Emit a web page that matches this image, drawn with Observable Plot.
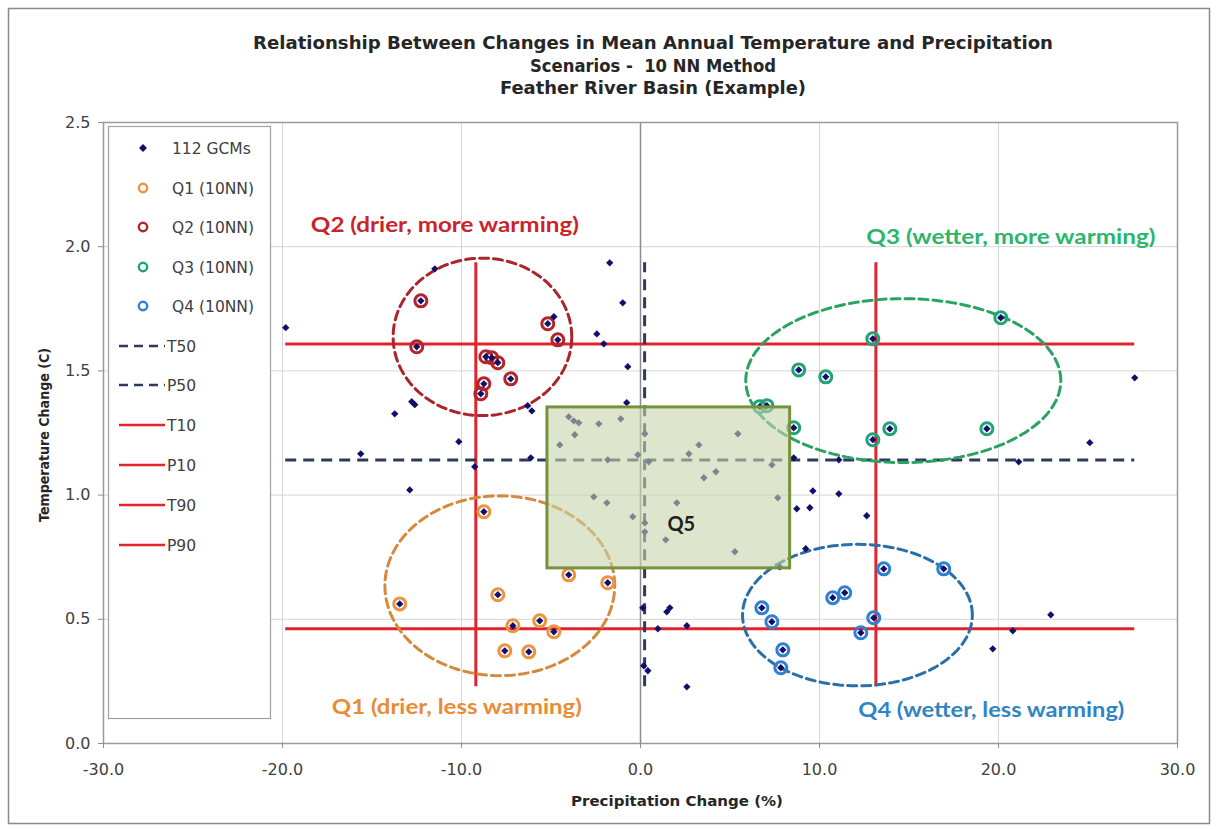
<!DOCTYPE html>
<html><head><meta charset="utf-8">
<script src="https://cdn.jsdelivr.net/npm/d3@7"></script>
<script src="https://cdn.jsdelivr.net/npm/@observablehq/plot@0.6"></script>
<style>
body{margin:0;background:#fff;}
#chart{position:relative;width:1218px;height:829px;}
</style></head><body><div id="chart"></div>
<script>
// ---------- data ----------
const titleLines = ["Relationship Between Changes in Mean Annual Temperature and Precipitation", "Scenarios -  10 NN Method", "Feather River Basin (Example)"];
const xLabel = "Precipitation Change (%)";
const yLabel = "Temperature Change (C)";
const xTicks = [-30, -20, -10, 0, 10, 20, 30];
const yTicks = [0, 0.5, 1.0, 1.5, 2.0, 2.5];

// GCMs not in a 10NN cluster
const gcmPrecip = [-19.82,-11.49,-4.84,-1.72,-0.99,-2.44,-2.05,-0.71,-0.77,-12.78,-12.61,-13.73,-6.30,-6.07,-10.15,-15.63,-9.26,-6.13,-12.89,8.56,11.08,21.13,25.10,27.61,9.63,11.08,8.73,9.46,12.64,9.23,22.92,20.80,19.68,0.13,1.64,1.47,0.97,2.59,0.18,0.41,2.59,
  -4.01,-3.73,-3.45,-2.33,-1.10,-3.67,-4.51,0.24,-1.83,-0.15,0.46,2.70,3.26,5.44,4.21,3.54,7.34,-2.61,-1.88,-0.43,0.24,0.24,2.03,1.41,5.27,7.67,7.78];
const gcmTemp = [1.674,1.911,1.718,1.935,1.774,1.649,1.609,1.517,1.372,1.376,1.364,1.327,1.360,1.339,1.215,1.166,1.114,1.150,1.021,1.150,1.142,1.134,1.211,1.472,1.017,1.005,0.945,0.949,0.917,0.784,0.518,0.454,0.381,0.546,0.546,0.530,0.462,0.474,0.313,0.293,0.228,
  1.315,1.299,1.291,1.287,1.307,1.243,1.202,1.247,1.142,1.162,1.134,1.166,1.202,1.247,1.094,1.070,1.122,0.993,0.969,0.913,0.888,0.852,0.969,0.820,0.772,0.989,0.711];

// 10 nearest neighbours per quadrant
const q1Precip = [-8.75,-13.45,-7.97,-7.13,-5.63,-4.84,-7.58,-6.24,-4.01,-1.83];
const q1Temp   = [0.933,0.562,0.599,0.474,0.494,0.450,0.373,0.369,0.679,0.647];
const q2Precip = [-12.27,-12.50,-8.64,-8.31,-7.97,-8.75,-8.92,-7.25,-5.18,-4.62];
const q2Temp   = [1.782,1.597,1.557,1.553,1.533,1.448,1.408,1.468,1.690,1.625];
const q3Precip = [20.13,12.98,8.84,10.35,8.56,12.98,13.93,19.35,6.66,7.06];
const q3Temp   = [1.714,1.629,1.504,1.476,1.271,1.223,1.267,1.267,1.356,1.360];
const q4Precip = [13.59,16.94,10.74,11.41,6.78,7.34,13.03,12.31,7.95,7.84];
const q4Temp   = [0.703,0.703,0.587,0.607,0.546,0.490,0.506,0.446,0.377,0.305];

// percentile thresholds
const tempPctNames = ["T10", "T50", "T90"];
const tempPctValues = [0.462, 1.141, 1.608];
const precipPctNames = ["P10", "P50", "P90"];
const precipPctValues = [-9.20, 0.23, 13.15];

// cluster ellipses (centre and half-widths, in data units)
const clusterNames = ["Q1", "Q2", "Q3", "Q4"];
const clusterCenterP = [-7.86, -8.83, 14.68, 12.12];
const clusterCenterT = [0.635, 1.637, 1.461, 0.517];
const clusterRadiusP = [6.42, 4.99, 8.80, 6.42];
const clusterRadiusT = [0.362, 0.317, 0.330, 0.285];

// Q5 box
const q5Precip = [-5.20, 8.36];
const q5Temp = [0.705, 1.353];

// quadrant annotations
const quadrantText = ["Q1 (drier, less warming)", "Q2 (drier, more warming)", "Q3 (wetter, more warming)", "Q4 (wetter, less warming)"];
const quadrantP = [-10.26, -10.93, 20.69, 19.60];
const quadrantT = [0.144, 2.084, 2.036, 0.132];

const legendLabels = ["112 GCMs", "Q1 (10NN)", "Q2 (10NN)", "Q3 (10NN)", "Q4 (10NN)", "T50", "P50", "T10", "P10", "T90", "P90"];

// ---------- styles ----------
const RED = "#e0242c", NAVY = "#2c3a5c", DIAMOND = "#10106a";
const circleColor = {Q1: "#ec9440", Q2: "#b3252c", Q3: "#22a27a", Q4: "#2f7fd2"};
const ellipseColor = {Q1: "#d5893e", Q2: "#a8262c", Q3: "#2aa262", Q4: "#2b6fa8"};
const labelColor = {Q1: "#e88c37", Q2: "#cc232b", Q3: "#2db56b", Q4: "#2f84c4"};

// ---------- derived tables ----------
const clusters = [
  {name: "Q1", p: q1Precip, t: q1Temp},
  {name: "Q2", p: q2Precip, t: q2Temp},
  {name: "Q3", p: q3Precip, t: q3Temp},
  {name: "Q4", p: q4Precip, t: q4Temp}
];
const allP = gcmPrecip.concat(q1Precip, q2Precip, q3Precip, q4Precip);
const allT = gcmTemp.concat(q1Temp, q2Temp, q3Temp, q4Temp);
const gcm = allP.map((p, i) => ({p, t: allT[i]}));
const pMin = d3.min(allP), pMax = d3.max(allP), tMin = d3.min(allT), tMax = d3.max(allT);
const hLines = tempPctNames.map((n, i) => ({name: n, t: tempPctValues[i], p1: pMin, p2: pMax}));
const vLines = precipPctNames.map((n, i) => ({name: n, p: precipPctValues[i], t1: tMin, t2: tMax}));
const angles = d3.range(0, 361, 3).map(a => a * Math.PI / 180);
const ellipses = clusterNames.map((n, i) => angles.map(a => ({
  name: n,
  p: clusterCenterP[i] + clusterRadiusP[i] * Math.cos(a),
  t: clusterCenterT[i] + clusterRadiusT[i] * Math.sin(a)
})));
const q5 = [{p1: q5Precip[0], p2: q5Precip[1], t1: q5Temp[0], t2: q5Temp[1]}];
const q5Label = [{p: (q5Precip[0] + q5Precip[1]) / 2 + 0.7, t: 0.88, text: "Q5"}];

const marks = [
  Plot.gridX(xTicks, {stroke: "#d6d6d6", strokeOpacity: 1}),
  Plot.gridY(yTicks, {stroke: "#d6d6d6", strokeOpacity: 1}),
  Plot.ruleX([0], {stroke: "#8c8c8c", strokeWidth: 1.5}),
  Plot.ruleY(hLines.filter(d => d.name !== "T50"), {y: "t", x1: "p1", x2: "p2", stroke: RED, strokeWidth: 3}),
  Plot.ruleX(vLines.filter(d => d.name !== "P50"), {x: "p", y1: "t1", y2: "t2", stroke: RED, strokeWidth: 3}),
  Plot.ruleY(hLines.filter(d => d.name === "T50"), {y: "t", x1: "p1", x2: "p2", stroke: NAVY, strokeWidth: 3, strokeDasharray: "11,7"}),
  Plot.ruleX(vLines.filter(d => d.name === "P50"), {x: "p", y1: "t1", y2: "t2", stroke: NAVY, strokeWidth: 3, strokeDasharray: "11,7"}),
];
ellipses.forEach((e, i) => marks.push(Plot.line(e, {x: "p", y: "t", stroke: ellipseColor[clusterNames[i]], strokeWidth: 3, strokeDasharray: "9,5"})));
clusters.forEach(c => marks.push(Plot.dot(c.p.map((p, i) => ({p, t: c.t[i]})), {x: "p", y: "t", r: 6, stroke: circleColor[c.name], strokeWidth: 3, fill: "none"})));
marks.push(Plot.dot(gcm, {x: "p", y: "t", symbol: "diamond2", r: 3.3, fill: DIAMOND, stroke: "none"}));
marks.push(Plot.rect(q5, {x1: "p1", x2: "p2", y1: "t1", y2: "t2", fill: "#c6d4aa", fillOpacity: 0.6, stroke: "#76923c", strokeWidth: 3}));
marks.push(Plot.text(q5Label, {x: "p", y: "t", text: "text", fill: "#1e1e1e", fontSize: 20, fontWeight: "bold", fontFamily: "Lato"}));
quadrantText.forEach((txt, i) => marks.push(Plot.text([{p: quadrantP[i], t: quadrantT[i], text: txt}], {x: "p", y: "t", text: "text", fill: labelColor[clusterNames[i]], fontSize: 20, fontWeight: "bold", fontFamily: "Lato"})));
marks.push(Plot.frame({stroke: "#9a9a9a", strokeWidth: 1.5}));
marks.push(Plot.axisX(xTicks, {tickFormat: d => d.toFixed(1), tickSize: 5, tickPadding: 15, stroke: "#8c8c8c", fill: "#404040", fontSize: 16, label: null}));
marks.push(Plot.axisY(yTicks, {tickFormat: d => d.toFixed(1), tickSize: 5, tickPadding: 8, stroke: "#8c8c8c", fill: "#404040", fontSize: 16, label: null}));

const svg = Plot.plot({
  width: 1218, height: 829,
  marginLeft: 103, marginRight: 41, marginTop: 122, marginBottom: 86,
  x: {domain: [-30, 30], axis: null},
  y: {domain: [0, 2.5], axis: null},
  style: {fontFamily: "DejaVu Sans", fontSize: "16px", background: "white", overflow: "visible"},
  marks
});
document.getElementById("chart").appendChild(svg);

// ---------- decorations (title, axis titles, legend, outer border) ----------
const S = d3.select(svg);
function fit(sel, w) { sel.attr("textLength", w).attr("lengthAdjust", "spacingAndGlyphs"); }

S.insert("rect", ":first-child").attr("x", 8.5).attr("y", 8.5).attr("width", 1201).attr("height", 815)
  .attr("fill", "white").attr("stroke", "#8a8a8a").attr("stroke-width", 1.5);

const titleY = [49, 72, 94];
const titleW = [800, 246, 306];
titleLines.forEach((t, i) => {
  const el = S.append("text").attr("x", 653).attr("y", titleY[i]).attr("text-anchor", "middle")
    .attr("font-family", "DejaVu Sans").attr("font-weight", "bold").attr("font-size", 17).attr("fill", "#262626").text(t);
  fit(el, titleW[i]);
});

fit(S.append("text").attr("x", 677).attr("y", 806).attr("text-anchor", "middle")
  .attr("font-family", "DejaVu Sans").attr("font-weight", "bold").attr("font-size", 14).attr("fill", "#262626").text(xLabel), 212);
fit(S.append("text").attr("transform", "translate(49,435) rotate(-90)").attr("text-anchor", "middle")
  .attr("font-family", "DejaVu Sans").attr("font-weight", "bold").attr("font-size", 14).attr("fill", "#262626").text(yLabel), 174);

// quadrant label widths
const quadW = [250, 268, 289, 266];
S.selectAll("text").each(function () {
  const i = quadrantText.indexOf(this.textContent);
  if (i >= 0) fit(d3.select(this), quadW[i]);
});

// legend
const L = S.append("g").attr("text-anchor", "start");
L.append("rect").attr("x", 108.5).attr("y", 126.5).attr("width", 162).attr("height", 592)
  .attr("fill", "white").attr("stroke", "#a0a0a0").attr("stroke-width", 1.2);
const rowY = [148, 188, 227, 267, 306, 346, 385, 425, 465, 505, 545];
legendLabels.forEach((lab, i) => {
  const y = rowY[i];
  let tx = 172;
  if (i === 0) {
    L.append("path").attr("d", d3.symbol(d3.symbolDiamond2, 40)()).attr("transform", `translate(143,${y})`).attr("fill", DIAMOND);
  } else if (i <= 4) {
    L.append("circle").attr("cx", 143).attr("cy", y).attr("r", 4.2).attr("fill", "none")
      .attr("stroke", circleColor[clusterNames[i - 1]]).attr("stroke-width", 2.4);
  } else {
    const dashed = lab === "T50" || lab === "P50";
    L.append("line").attr("x1", 119).attr("x2", 165).attr("y1", y).attr("y2", y)
      .attr("stroke", dashed ? NAVY : RED).attr("stroke-width", 2.5)
      .attr("stroke-dasharray", dashed ? "9,6" : null);
    tx = 167;
  }
  L.append("text").attr("x", tx).attr("y", y + 5.5).attr("text-anchor", "start").attr("font-family", "DejaVu Sans").attr("font-size", 15.5)
    .attr("fill", "#404040").text(lab);
});
</script>
</body></html>
